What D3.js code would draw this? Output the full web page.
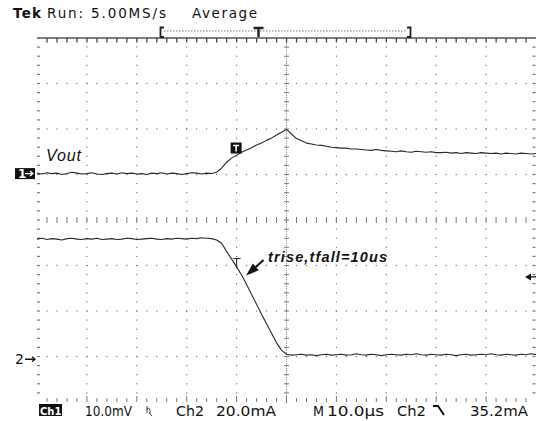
<!DOCTYPE html>
<html lang="en">
<head>
    <meta charset="UTF-8">
    <title>Tek scope capture - trise, tfall</title>
    <style>
        body {
            margin: 0;
            background: #fff;
        }
        svg {
            display: block;
            font-family: "DejaVu Sans", sans-serif;
        }
        .dot { fill: #7a7a7a; }
        .trace {
            fill: none;
            stroke: #2a2a2a;
            stroke-width: 1.1;
            stroke-linejoin: round;
        }
        .note {
            font-family: "Liberation Sans", Arial, sans-serif;
            font-style: italic;
        }
    </style>
</head>
<body>
<div id="scope"></div>

<script src="https://d3js.org/d3.v7.min.js"></script>
<script>
    // sample times, 1 us apart across the 10 divisions (10 us/div)
    const sampleTimes = d3.range(0, 101, 1);

    // Ch1 (Vout), in screen divisions
    const ch1Div = [
        1.03, 1.01, 1.04, 1.02, 1.03, 1.00, 1.02, 1.05, 1.03, 1.01,
        1.02, 1.04, 1.01, 1.00, 1.02, 1.03, 1.01, 1.04, 1.02, 1.03,
        1.01, 1.02, 1.00, 1.03, 1.02, 1.04, 1.01, 1.03, 1.02, 1.00,
        1.02, 1.04, 1.03, 1.01, 1.03, 1.02,
        1.05, 1.14, 1.27, 1.36, 1.42, 1.49, 1.54, 1.59, 1.65, 1.69, 1.75, 1.80, 1.87, 1.93, 1.99,
        1.89, 1.79, 1.74, 1.69, 1.67, 1.65, 1.64, 1.62, 1.60, 1.59, 1.58, 1.58, 1.56, 1.56, 1.55,
        1.54, 1.53, 1.55, 1.53, 1.52, 1.51, 1.50, 1.52, 1.50, 1.49, 1.51, 1.50, 1.49, 1.50, 1.48,
        1.48, 1.49, 1.47, 1.48, 1.46, 1.48, 1.47, 1.46, 1.48, 1.47,
        1.46, 1.47, 1.45, 1.47, 1.46, 1.45, 1.47, 1.46, 1.45, 1.46
    ];

    // Ch2 (load current), in screen divisions
    const ch2Div = [
        -0.42, -0.40, -0.43, -0.41, -0.42, -0.44, -0.41, -0.40, -0.42, -0.43,
        -0.41, -0.42, -0.40, -0.43, -0.42, -0.41, -0.43, -0.42, -0.40, -0.41,
        -0.43, -0.42, -0.41, -0.40, -0.42, -0.43, -0.41, -0.42, -0.40, -0.41,
        -0.42, -0.40, -0.41, -0.39, -0.40, -0.41,
        -0.44, -0.51, -0.69, -0.86, -1.03, -1.21, -1.42, -1.64, -1.85, -2.07, -2.28, -2.49, -2.70, -2.86, -2.95,
        -2.97, -2.96, -2.95, -2.97, -2.96, -2.98, -2.96, -2.95, -2.97, -2.96,
        -2.95, -2.97, -2.96, -2.94, -2.96, -2.97, -2.95, -2.96, -2.98, -2.96,
        -2.95, -2.96, -2.97, -2.95, -2.96, -2.94, -2.96, -2.97, -2.95, -2.96,
        -2.97, -2.95, -2.96, -2.98, -2.96, -2.95, -2.97, -2.96, -2.95, -2.96,
        -2.94, -2.96, -2.97, -2.95, -2.96, -2.97, -2.95, -2.96, -2.94, -2.96
    ];

    const groundLevels = [1.02, -3.06];   // ch1, ch2 markers
    const triggerTime = 40;               // us
    const triggerLevel = -1.25;           // div, right-hand arrow

    const headerLabels = ["Tek", "Run: 5.00MS/s", "Average"];
    const footerLabels = ["Ch1", "10.0mV", "Ch2", "20.0mA", "M", "10.0\u00b5s", "Ch2", "35.2mA"];
    const noteLabels = ["Vout", "trise,tfall=10us"];

    const width = 536, height = 421;

    const svg = d3.select("#scope").append("svg")
        .attr("width", width)
        .attr("height", height);

    svg.append("rect").attr("width", width).attr("height", height).attr("fill", "#fff");

    const x = d3.scaleLinear().domain([0, 100]).range([37, 536]);
    const y = d3.scaleLinear().domain([-4, 4]).range([402, 38]);

    const majorT = d3.range(0, 101, 10);
    const minorT = d3.range(0, 100.01, 2);
    const majorV = d3.range(-4, 4.01, 1);
    const minorV = d3.range(-4, 4.001, 0.2);

    // graticule
    const grid = svg.append("g");

    // dotted horizontal lines
    majorV.filter(v => v !== 0 && v !== 4 && v !== -4).forEach(v => {
        grid.selectAll(null).data(minorT.slice(1, -1)).enter().append("rect")
            .attr("class", "dot")
            .attr("x", d => x(d) - 0.6).attr("y", y(v) - 0.6)
            .attr("width", 1.2).attr("height", 1.2);
    });

    // dotted vertical lines
    majorT.filter(t => t !== 0 && t !== 50 && t !== 100).forEach(t => {
        grid.selectAll(null).data(minorV.slice(1, -1)).enter().append("rect")
            .attr("class", "dot")
            .attr("x", x(t) - 0.6).attr("y", d => y(d) - 0.6)
            .attr("width", 1.2).attr("height", 1.2);
    });

    // centre vertical: fine dots + little ticks
    grid.selectAll(null).data(d3.range(-4, 4, 0.05)).enter().append("rect")
        .attr("class", "dot")
        .attr("x", x(50) - 0.5).attr("y", d => y(d))
        .attr("width", 1).attr("height", 1);
    grid.selectAll(null).data(minorV.slice(1, -1)).enter().append("rect")
        .attr("class", "dot")
        .attr("x", x(50) - 2.5).attr("y", d => y(d) - 0.5)
        .attr("width", 5).attr("height", 1);

    // centre horizontal: little ticks
    grid.selectAll(null).data(minorT.slice(1, -1)).enter().append("rect")
        .attr("class", "dot")
        .attr("x", d => x(d) - 0.5).attr("y", y(0) - 3)
        .attr("width", 1).attr("height", 6);

    // left / right edge ticks
    [0, 100].forEach(t => {
        grid.selectAll(null).data(minorV.slice(1, -1)).enter().append("rect")
            .attr("class", "dot")
            .attr("x", t === 0 ? x(t) : x(t) - 3.5).attr("y", d => y(d) - 0.6)
            .attr("width", 3).attr("height", 1.2);
    });

    // bottom edge ticks
    grid.selectAll(null).data(minorT.slice(1, -1)).enter().append("rect")
        .attr("class", "dot")
        .attr("x", d => x(d) - 0.5).attr("y", d => y(-4) - (d % 10 === 0 ? 6 : 4))
        .attr("width", 1).attr("height", d => d % 10 === 0 ? 6 : 4);

    // top ruler
    svg.append("line")
        .attr("x1", x(0)).attr("x2", x(100))
        .attr("y1", y(4)).attr("y2", y(4))
        .attr("stroke", "#555").attr("stroke-width", 1.6);
    svg.append("g").selectAll("rect").data(minorT.slice(1, -1)).enter().append("rect")
        .attr("x", d => x(d) - 0.6).attr("y", y(4))
        .attr("width", 1.3).attr("height", 4.5)
        .attr("fill", "#444");

    // record bracket with trigger point
    const bracket = svg.append("g").attr("fill", "none").attr("stroke", "#222");
    bracket.append("path").attr("d", "M164,27.5 H160.5 V37 H164").attr("stroke-width", 1.8);
    bracket.append("path").attr("d", "M407,27.5 H410.5 V37 H407").attr("stroke-width", 1.8);
    bracket.append("line").attr("x1", 164).attr("x2", 407).attr("y1", 31).attr("y2", 31)
        .attr("stroke", "#777").attr("stroke-dasharray", "1.5,1.5");
    bracket.append("path").attr("d", "M253.5,28 H263.5 M258.5,28 V37").attr("stroke-width", 2.4);

    // traces
    const line = d3.line()
        .x((d, i) => x(sampleTimes[i]))
        .y(d => y(d));

    svg.append("path").datum(ch1Div).attr("class", "trace").attr("d", line);
    svg.append("path").datum(ch2Div).attr("class", "trace").attr("d", line);

    // ch1 ground marker (boxed)
    const g1 = svg.append("g");
    g1.append("rect")
        .attr("x", 15).attr("y", y(groundLevels[0]) - 5.5)
        .attr("width", 20).attr("height", 11).attr("fill", "#111");
    g1.append("text")
        .attr("x", 18).attr("y", y(groundLevels[0]) + 4.5)
        .attr("fill", "#fff").attr("font-size", 12).attr("font-weight", "bold")
        .text("1");
    g1.append("path")
        .attr("d", `M25,${y(groundLevels[0])} H33 M30,${y(groundLevels[0]) - 2.5} L33,${y(groundLevels[0])} L30,${y(groundLevels[0]) + 2.5}`)
        .attr("stroke", "#fff").attr("stroke-width", 1.3).attr("fill", "none");

    // ch2 ground marker
    const g2 = svg.append("g");
    g2.append("text")
        .attr("x", 15).attr("y", y(groundLevels[1]) + 5)
        .attr("fill", "#111").attr("font-size", 14)
        .text("2");
    g2.append("path")
        .attr("d", `M25,${y(groundLevels[1])} H35 M32,${y(groundLevels[1]) - 2.5} L35,${y(groundLevels[1])} L32,${y(groundLevels[1]) + 2.5}`)
        .attr("stroke", "#111").attr("stroke-width", 1.3).attr("fill", "none");

    // trigger level arrow on the right
    const ty = y(triggerLevel);
    svg.append("path")
        .attr("d", `M525,${ty} L531,${ty - 3.5} L531,${ty + 3.5} Z M530,${ty - 0.7} H536 V${ty + 0.7} H530 Z`)
        .attr("fill", "#111");

    // trigger marker on ch1
    const tx = x(triggerTime);
    svg.append("rect")
        .attr("x", tx - 6).attr("y", 142.5)
        .attr("width", 11).attr("height", 11)
        .attr("fill", "#111");
    svg.append("path")
        .attr("d", `M${tx - 3.5},145.5 H${tx + 2.5} M${tx - 0.5},145.5 V151.5`)
        .attr("stroke", "#fff").attr("stroke-width", 1.6);

    // small T on ch2
    svg.append("path")
        .attr("d", `M${tx - 3.5},258.5 H${tx + 4} M${tx},258.5 V268`)
        .attr("stroke", "#333").attr("stroke-width", 1.1).attr("fill", "none");

    // header
    const head = svg.append("g").attr("fill", "#111").attr("font-size", 13.5);
    head.append("text").attr("x", 13).attr("y", 18).attr("font-weight", "bold")
        .attr("textLength", 28).text(headerLabels[0]);
    head.append("text").attr("x", 47).attr("y", 18)
        .attr("textLength", 119).text(headerLabels[1]);
    head.append("text").attr("x", 192).attr("y", 18)
        .attr("textLength", 65).text(headerLabels[2]);

    // footer
    const foot = svg.append("g").attr("fill", "#111").attr("font-size", 13.5);
    foot.append("rect").attr("x", 39).attr("y", 404).attr("width", 23).attr("height", 12).attr("fill", "#111");
    foot.append("text").attr("x", 40).attr("y", 414.5).attr("fill", "#fff").attr("font-weight", "bold")
        .attr("font-size", 10).text(footerLabels[0]);
    const footPos = [null, [85, 47], [176, 28], [216, 60], [313, 11], [327, 57], [397, 29], [470, 58]];
    footerLabels.forEach((lab, i) => {
        if (!footPos[i]) return;
        foot.append("text").attr("x", footPos[i][0]).attr("y", 416)
            .attr("textLength", footPos[i][1]).attr("lengthAdjust", "spacingAndGlyphs")
            .text(lab);
    });
    // coupling glyph and falling-edge slope symbol
    foot.append("path").attr("d", "M147,406 V413 M147,409 Q150,407 150,411 V414 M149,413 L152,416")
        .attr("stroke", "#444").attr("stroke-width", 1).attr("fill", "none");
    foot.append("path").attr("d", "M433,406 H438 L444,415")
        .attr("stroke", "#111").attr("stroke-width", 2).attr("fill", "none");

    // annotations
    svg.append("text").attr("class", "note")
        .attr("x", x(1.8)).attr("y", y(1.3))
        .attr("font-size", 16).attr("fill", "#111")
        .attr("textLength", 35)
        .text(noteLabels[0]);

    svg.append("text").attr("class", "note")
        .attr("x", x(46.3)).attr("y", y(-0.92))
        .attr("font-size", 14.5).attr("font-weight", "bold").attr("fill", "#111")
        .attr("textLength", 119)
        .text(noteLabels[1]);

    // arrow to the falling edge
    const tail = [x(45.4), y(-0.88)], tip = [x(41.9), y(-1.22)];
    const ang = Math.atan2(tip[1] - tail[1], tip[0] - tail[0]);
    const headLen = 13, headW = 4.5;
    const bx = tip[0] - headLen * Math.cos(ang), by = tip[1] - headLen * Math.sin(ang);
    svg.append("line")
        .attr("x1", tail[0]).attr("y1", tail[1]).attr("x2", bx).attr("y2", by)
        .attr("stroke", "#111").attr("stroke-width", 2);
    svg.append("path")
        .attr("d", `M${tip[0]},${tip[1]} L${bx + headW * Math.sin(ang)},${by - headW * Math.cos(ang)} L${bx - headW * Math.sin(ang)},${by + headW * Math.cos(ang)} Z`)
        .attr("fill", "#111");
</script>

</body>
</html>
